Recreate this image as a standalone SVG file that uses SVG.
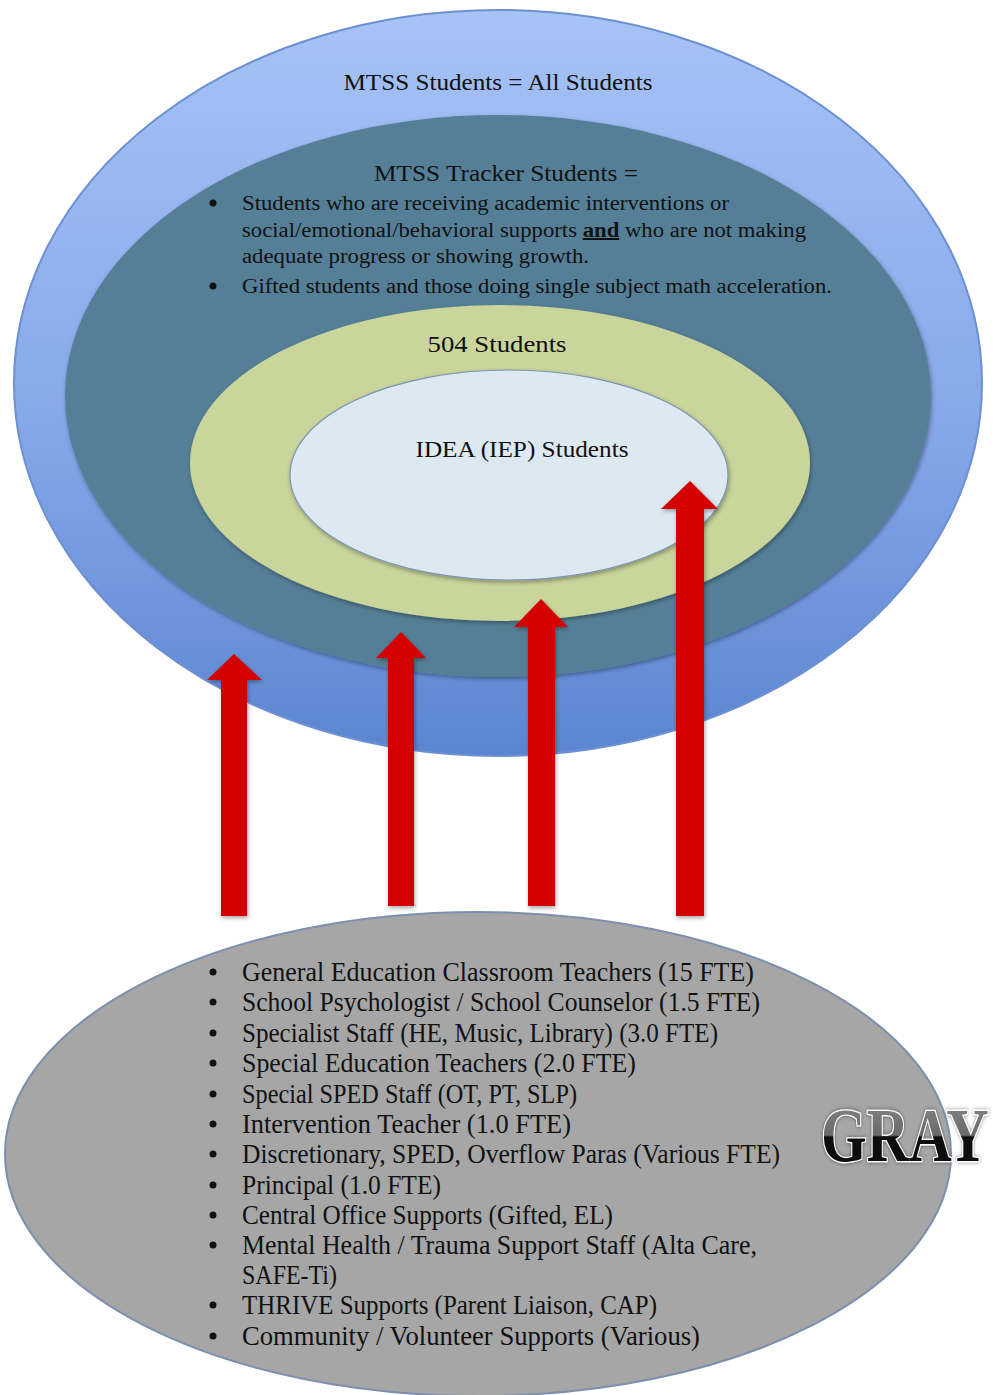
<svg xmlns="http://www.w3.org/2000/svg" width="1005" height="1395" viewBox="0 0 1005 1395">
  <defs>
    <linearGradient id="outerFill" x1="0" y1="0" x2="0" y2="1">
      <stop offset="0" stop-color="#a7c3f6"/>
      <stop offset="0.55" stop-color="#86a8ea"/>
      <stop offset="1" stop-color="#5b85d0"/>
    </linearGradient>
    <linearGradient id="grayText" x1="0" y1="0" x2="0" y2="1">
      <stop offset="0" stop-color="#8a8a8a"/>
      <stop offset="0.5" stop-color="#6a6a6a"/>
      <stop offset="0.52" stop-color="#111"/>
      <stop offset="1" stop-color="#000"/>
    </linearGradient>
    <filter id="shadow" x="-10%" y="-10%" width="120%" height="120%">
      <feDropShadow dx="1" dy="2" stdDeviation="2" flood-color="#000" flood-opacity="0.35"/>
    </filter>
    <filter id="glow" x="-2%" y="-10%" width="104%" height="120%">
      <feDropShadow dx="0" dy="0" stdDeviation="1.6" flood-color="#000" flood-opacity="0.5"/>
    </filter>
  </defs>
  <style>
    .lbl { font-family: "Liberation Serif", "DejaVu Serif", serif; fill: #111; }
    .list { font-family: "Liberation Serif", "DejaVu Serif", serif; font-size: 27px; fill: #111; }
    .bul { font-family: "Liberation Serif", serif; font-size: 20px; fill: #111; }
    .arrow { fill: #d40000; filter: url(#shadow); }
  </style>

  <rect width="1005" height="1395" fill="#ffffff"/>

  <g id="mtss-all">
    <ellipse cx="498" cy="383" rx="484" ry="373" fill="url(#outerFill)" stroke="#6d90d2" stroke-width="2"/>
    <text class="lbl" x="498" y="90" font-size="24" text-anchor="middle" textLength="309" lengthAdjust="spacingAndGlyphs">MTSS Students = All Students</text>
  </g>

  <g id="mtss-tracker">
    <ellipse cx="498" cy="396" rx="433" ry="281" fill="#557f97" filter="url(#shadow)"/>
    <text class="lbl" x="506" y="181" font-size="24" text-anchor="middle" textLength="264" lengthAdjust="spacingAndGlyphs">MTSS Tracker Students =</text>
    <g class="bul">
      <circle cx="213" cy="203" r="3.5" fill="#111"/>
      <text x="242" y="210" textLength="487" lengthAdjust="spacingAndGlyphs">Students who are receiving academic interventions or</text>
      <text x="242" y="237" textLength="564" lengthAdjust="spacingAndGlyphs">social/emotional/behavioral supports <tspan font-weight="bold" text-decoration="underline">and</tspan> who are not making</text>
      <text x="242" y="263" textLength="347" lengthAdjust="spacingAndGlyphs">adequate progress or showing growth.</text>
      <circle cx="213" cy="286" r="3.5" fill="#111"/>
      <text x="242" y="293" textLength="590" lengthAdjust="spacingAndGlyphs">Gifted students and those doing single subject math acceleration.</text>
    </g>
  </g>

  <g id="students-504">
    <ellipse cx="500" cy="463" rx="310" ry="158" fill="#c9d59b" filter="url(#shadow)"/>
    <text class="lbl" x="497" y="352" font-size="24" text-anchor="middle" textLength="139" lengthAdjust="spacingAndGlyphs">504 Students</text>
  </g>

  <g id="idea-iep">
    <ellipse cx="509" cy="475" rx="219" ry="105" fill="#dde9f1" stroke="#7b94b4" stroke-width="1.2" filter="url(#shadow)"/>
    <text class="lbl" x="522" y="457" font-size="24" text-anchor="middle" textLength="213" lengthAdjust="spacingAndGlyphs">IDEA (IEP) Students</text>
  </g>

  <g id="supports">
    <ellipse cx="478" cy="1154" rx="473" ry="242" fill="#a6a6a6" stroke="#7d8fae" stroke-width="2"/>
    <g class="list">
      <circle cx="213" cy="972" r="3.5" fill="#111"/>
      <text x="242" y="981" textLength="512" lengthAdjust="spacingAndGlyphs">General Education Classroom Teachers (15 FTE)</text>
      <circle cx="213" cy="1002" r="3.5" fill="#111"/>
      <text x="242" y="1011" textLength="518" lengthAdjust="spacingAndGlyphs">School Psychologist / School Counselor (1.5 FTE)</text>
      <circle cx="213" cy="1033" r="3.5" fill="#111"/>
      <text x="242" y="1042" textLength="476" lengthAdjust="spacingAndGlyphs">Specialist Staff (HE, Music, Library) (3.0 FTE)</text>
      <circle cx="213" cy="1063" r="3.5" fill="#111"/>
      <text x="242" y="1072" textLength="394" lengthAdjust="spacingAndGlyphs">Special Education Teachers (2.0 FTE)</text>
      <circle cx="213" cy="1094" r="3.5" fill="#111"/>
      <text x="242" y="1103" textLength="335" lengthAdjust="spacingAndGlyphs">Special SPED Staff (OT, PT, SLP)</text>
      <circle cx="213" cy="1124" r="3.5" fill="#111"/>
      <text x="242" y="1133" textLength="329" lengthAdjust="spacingAndGlyphs">Intervention Teacher (1.0 FTE)</text>
      <circle cx="213" cy="1154" r="3.5" fill="#111"/>
      <text x="242" y="1163" textLength="538" lengthAdjust="spacingAndGlyphs">Discretionary, SPED, Overflow Paras (Various FTE)</text>
      <circle cx="213" cy="1185" r="3.5" fill="#111"/>
      <text x="242" y="1194" textLength="199" lengthAdjust="spacingAndGlyphs">Principal (1.0 FTE)</text>
      <circle cx="213" cy="1215" r="3.5" fill="#111"/>
      <text x="242" y="1224" textLength="371" lengthAdjust="spacingAndGlyphs">Central Office Supports (Gifted, EL)</text>
      <circle cx="213" cy="1245" r="3.5" fill="#111"/>
      <text x="242" y="1254" textLength="515" lengthAdjust="spacingAndGlyphs">Mental Health / Trauma Support Staff (Alta Care,</text>
      <text x="242" y="1284" textLength="95" lengthAdjust="spacingAndGlyphs">SAFE-Ti)</text>
      <circle cx="213" cy="1305" r="3.5" fill="#111"/>
      <text x="242" y="1314" textLength="415" lengthAdjust="spacingAndGlyphs">THRIVE Supports (Parent Liaison, CAP)</text>
      <circle cx="213" cy="1336" r="3.5" fill="#111"/>
      <text x="242" y="1345" textLength="458" lengthAdjust="spacingAndGlyphs">Community / Volunteer Supports (Various)</text>
    </g>
  </g>

  <g id="connectors">
    <path class="arrow" d="M221,916 V680 H207 L234,654 L262,680 H247 V916 Z"/>
    <path class="arrow" d="M388,906 V658 H376 L401,632 L426,658 H414 V906 Z"/>
    <path class="arrow" d="M528,906 V627 H514 L541,599 L568,627 H555 V906 Z"/>
    <path class="arrow" d="M676,916 V509 H661 L690,481 L718,509 H704 V916 Z"/>
  </g>

  <g id="gray-title" transform="translate(821,1161) scale(0.98,1.27)">
    <text x="0" y="0" font-family="Liberation Serif, serif" font-weight="bold" font-size="60" fill="url(#grayText)" stroke="#ffffff" stroke-width="2" paint-order="stroke" filter="url(#glow)">GRAY</text>
  </g>
</svg>
